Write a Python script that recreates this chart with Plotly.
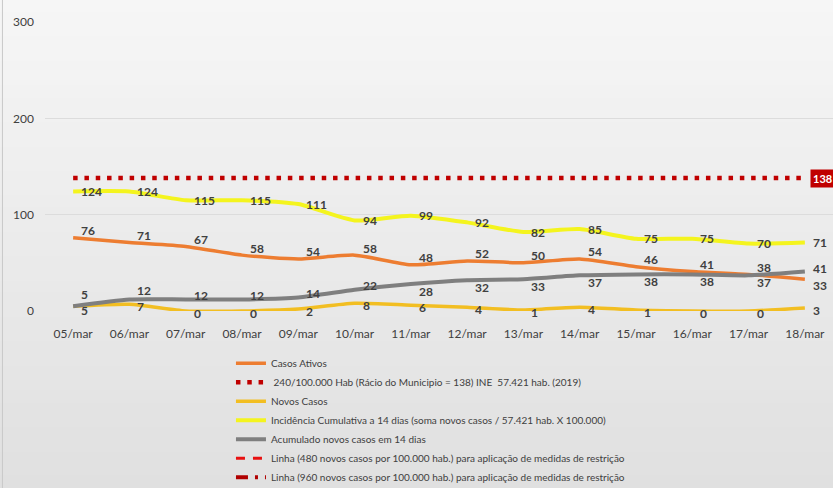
import plotly.graph_objects as go

dates = ["05/mar", "06/mar", "07/mar", "08/mar", "09/mar", "10/mar", "11/mar",
         "12/mar", "13/mar", "14/mar", "15/mar", "16/mar", "17/mar", "18/mar"]
casos_ativos = [76, 71, 67, 58, 54, 58, 48, 52, 50, 54, 46, 41, 38, 33]
racio_municipio = [138] * 14
novos_casos = [5, 7, 0, 0, 2, 8, 6, 4, 1, 4, 1, 0, 0, 3]
incidencia = [124, 124, 115, 115, 111, 94, 99, 92, 82, 85, 75, 75, 70, 71]
acumulado = [5, 12, 12, 12, 14, 22, 28, 32, 33, 37, 38, 38, 37, 41]
linha_480 = [None] * 14
linha_960 = [None] * 14
y_ticks = [0, 100, 200, 300]

FONT = "Lato"
LABEL_COLOR = "#404040"

fig = go.Figure()

fig.add_trace(go.Scatter(x=dates, y=casos_ativos, mode="lines", name="Casos Ativos",
                         line=dict(color="#ED7D31", width=3.5, shape="spline", smoothing=0.6)))
fig.add_trace(go.Scatter(x=dates, y=racio_municipio, mode="lines",
                         name=" 240/100.000 Hab (Rácio do Municipio = 138) INE  57.421 hab. (2019)",
                         line=dict(color="#C00000", width=4.5, dash="4.5px,6.8px")))
fig.add_trace(go.Scatter(x=dates, y=novos_casos, mode="lines", name="Novos Casos",
                         line=dict(color="#F2BE22", width=3.5, shape="spline", smoothing=0.6)))
fig.add_trace(go.Scatter(x=dates, y=incidencia, mode="lines",
                         name="Incidência Cumulativa a 14 dias (soma novos casos / 57.421 hab. X 100.000)",
                         line=dict(color="#F4F41E", width=4, shape="spline", smoothing=0.6)))
fig.add_trace(go.Scatter(x=dates, y=acumulado, mode="lines", name="Acumulado novos casos em 14 dias",
                         line=dict(color="#7F7F7F", width=4, shape="spline", smoothing=0.6)))
fig.add_trace(go.Scatter(x=dates, y=linha_480, mode="lines",
                         name="Linha (480 novos casos por 100.000 hab.) para aplicação de medidas de restrição",
                         line=dict(color="#E81010", width=3, dash="9px,8px")))
fig.add_trace(go.Scatter(x=dates, y=linha_960, mode="lines",
                         name="Linha (960 novos casos por 100.000 hab.) para aplicação de medidas de restrição",
                         line=dict(color="#B00000", width=4, dash="12px,7px,3px,7px")))

label_font = dict(family=FONT, size=12, color=LABEL_COLOR, weight="bold")
annotations = []


def add_label(d, v, yshift):
    annotations.append(dict(x=d, y=v, xref="x", yref="y", text=str(v), showarrow=False,
                            xanchor="left", yanchor="middle", xshift=6, yshift=yshift,
                            font=label_font))


for d, v, g in zip(dates, casos_ativos, acumulado):
    # above its line, unless the line dips under the grey one
    add_label(d, v, 7 if v >= g else -6)
for d, v in zip(dates, incidencia):
    add_label(d, v, 0)
for d, v, g in zip(dates, novos_casos, acumulado):
    add_label(d, v, -4 if g - v < 3 else -2)
for d, v, n, c in zip(dates, acumulado, novos_casos, casos_ativos):
    gap = v - n
    if v > c:
        ys = 3
    elif gap < 3:
        ys = 12
    elif gap < 10:
        ys = 9
    elif gap < 15:
        ys = 4
    else:
        ys = -7
    add_label(d, v, ys)

annotations.append(dict(x=dates[-1], y=racio_municipio[-1], xref="x", yref="y",
                        text=str(racio_municipio[-1]), showarrow=False, xanchor="left",
                        yanchor="middle", xshift=5, bgcolor="#C00000", borderpad=2,
                        font=dict(family=FONT, size=11, color="white", weight="bold")))

# background gradient bands (paper coords)
shapes = []
H = 488
top_px, bot_px = 22, 311


def py2paper(py):
    return (bot_px - py) / (bot_px - top_px)


n = 40
c0 = (246, 246, 246)
c1 = (224, 224, 224)
for i in range(n):
    t = i / (n - 1)
    c = tuple(int(round(c0[k] + (c1[k] - c0[k]) * t)) for k in range(3))
    y0 = py2paper(i * H / n)
    y1 = py2paper((i + 1) * H / n + 1)
    shapes.append(dict(type="rect", xref="paper", yref="paper", x0=-0.1, x1=1.1,
                       y0=y1, y1=y0, fillcolor="rgb(%d,%d,%d)" % c,
                       line=dict(width=0), layer="below"))
shapes.append(dict(type="line", xref="paper", yref="paper", x0=-0.054, x1=-0.054,
                   y0=py2paper(0), y1=py2paper(H), line=dict(color="#c8c8c8", width=1),
                   layer="below"))

fig.update_layout(
    width=833, height=488,
    margin=dict(l=45, r=0, t=22, b=177, autoexpand=False),
    paper_bgcolor="#ececec",
    plot_bgcolor="rgba(0,0,0,0)",
    font=dict(family=FONT, size=12, color=LABEL_COLOR),
    showlegend=True,
    legend=dict(x=0.236, y=-0.131, xanchor="left", yanchor="top",
                bgcolor="rgba(0,0,0,0)", font=dict(family=FONT, size=10, color="#404040"),
                itemwidth=30, tracegroupgap=0),
    annotations=annotations,
    shapes=shapes,
    xaxis=dict(type="category", range=[-0.5, len(dates) - 0.5], showgrid=False,
               showline=False, zeroline=False, ticks="", ticklabelstandoff=14,
               tickfont=dict(family=FONT, size=12, color=LABEL_COLOR)),
    yaxis=dict(range=[0, 300], tickvals=y_ticks, showgrid=True, gridcolor="#dcdcdc",
               gridwidth=1, zeroline=False, showline=False, ticks="", ticklabelstandoff=10,
               tickfont=dict(family=FONT, size=12, color=LABEL_COLOR)),
)

fig.write_html("out.html", config={"displayModeBar": False},
               post_script="document.body.style.margin='0';document.body.style.overflow='hidden';")
